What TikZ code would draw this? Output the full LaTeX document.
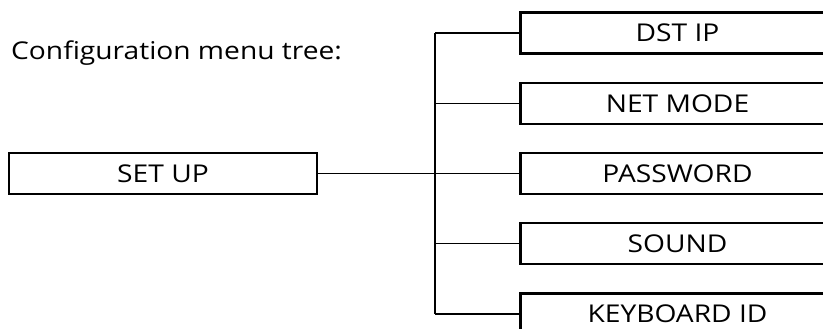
\documentclass[tikz,border=0pt]{standalone}
\usepackage{fontspec}
\setmainfont{Open Sans}
\newcommand{\widetxt}[1]{\scalebox{1.15}[1]{#1}}
\begin{document}
\begin{tikzpicture}[x=1pt,y=-1pt,
  menubox/.style={draw=black,line width=2.2pt,fill=white,minimum height=41pt,inner sep=0pt,font=\fontsize{24.5}{26}\selectfont},
  leftbox/.style={menubox,minimum width=308pt},
  rightbox/.style={menubox,minimum width=314pt},
  wire/.style={draw=black,line width=1.4pt}]
\useasboundingbox (0,0) rectangle (823,329);
\clip (0,0) rectangle (823,329);
\node[anchor=base west,inner sep=0pt,font=\fontsize{24.5}{26}\selectfont] (title) at (11,60) {\widetxt{Configuration menu tree:}};
\coordinate (bus) at (435,0);
\node[leftbox] (setup) at (163,173.5) {\widetxt{SET UP}};
\node[rightbox] (dst) at (677.5,33) {\widetxt{DST IP}};
\node[rightbox] (net) at (677.5,103.5) {\widetxt{NET MODE}};
\node[rightbox] (pw) at (677.5,173.5) {\widetxt{PASSWORD}};
\node[rightbox] (snd) at (677.5,243.5) {\widetxt{SOUND}};
\node[rightbox] (kb) at (677.5,314) {\widetxt{KEYBOARD ID}};
\draw[wire] (setup.east) -- (pw.west);
\draw[wire] (dst.west -| bus) -- (kb.west -| bus);
\foreach \b in {dst,net,pw,snd,kb}{
  \draw[wire] (\b.west -| bus) -- (\b.west);
}
\end{tikzpicture}
\end{document}
